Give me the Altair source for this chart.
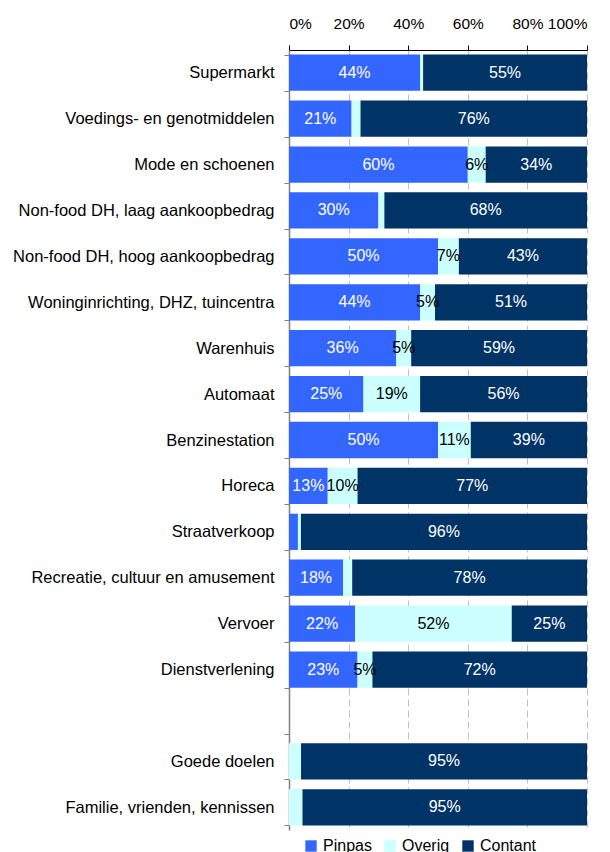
import altair as alt
import pandas as pd

categories = [
    "Supermarkt", "Voedings- en genotmiddelen", "Mode en schoenen",
    "Non-food DH, laag aankoopbedrag", "Non-food DH, hoog aankoopbedrag",
    "Woninginrichting, DHZ, tuincentra", "Warenhuis", "Automaat",
    "Benzinestation", "Horeca", "Straatverkoop",
    "Recreatie, cultuur en amusement", "Vervoer", "Dienstverlening",
    " ", "Goede doelen", "Familie, vrienden, kennissen",
]
pinpas = [44, 21, 60, 30, 50, 44, 36, 25, 50, 13, 3, 18, 22, 23, None, 0, 0]
overig = [1, 3, 6, 2, 7, 5, 5, 19, 11, 10, 1, 3, 52, 5, None, 4, 4.5]
contant = [55, 76, 34, 68, 43, 51, 59, 56, 39, 77, 96, 78, 25, 72, None, 95, 95]
methods = ["Pinpas", "Overig", "Contant"]
colors = ["#3366FF", "#CCFFFF", "#003366"]

rows = []
for i, c in enumerate(categories):
    for j, (m, vals) in enumerate(zip(methods, [pinpas, overig, contant])):
        v = vals[i]
        if v is None:
            continue
        rows.append({"cat": c, "method": m, "order": j, "value": v})
df = pd.DataFrame(rows)

FONT = "Liberation Sans"

base = alt.Chart(df)

y_enc = alt.Y(
    "cat:N",
    sort=categories,
    scale=alt.Scale(domain=categories, paddingInner=0.21, paddingOuter=0.1),
    title=None,
    axis=alt.Axis(
        tickBand="extent",
        labelFont=FONT, labelFontSize=16.5, labelColor="#000000",
        labelPadding=10, tickSize=5, tickColor="#808080",
        domainColor="#808080", domainWidth=1.5, labelLimit=400,
        grid=False,
    ),
)

bars = base.mark_bar().encode(
    x=alt.X(
        "value:Q", stack="normalize", title=None,
        scale=alt.Scale(domain=[0, 1], nice=False),
        axis=alt.Axis(
            orient="top", format=".0%", values=[0, 0.2, 0.4, 0.6, 0.8, 1.0],
            labelFont=FONT, labelFontSize=15.5, labelColor="#000000",
            tickSize=5, tickColor="#000000", domainColor="#000000",
            labelPadding=14,
            grid=True, gridColor="#c0c0c0", gridDash=[7, 4],
        ),
    ),
    y=y_enc,
    color=alt.Color(
        "method:N",
        scale=alt.Scale(domain=methods, range=colors),
        legend=alt.Legend(
            title=None, orient="none", direction="horizontal",
            legendX=14, legendY=788,
            symbolType="square", symbolSize=130, symbolStrokeWidth=0,
            labelFont=FONT, labelFontSize=16, labelColor="#000000",
            columnPadding=10, labelOffset=4,
        ),
    ),
    order=alt.Order("order:Q"),
)

labels = base.transform_joinaggregate(
    total="sum(value)", groupby=["cat"]
).transform_window(
    cum="sum(value)", groupby=["cat"], sort=[alt.SortField("order")]
).transform_calculate(
    mid="(datum.cum - datum.value / 2) / datum.total",
    txt="format(datum.value, 'd') + '%'",
    tcol="datum.method == 'Overig' ? 'black' : 'white'",
).transform_filter(
    "datum.value >= 5"
).mark_text(font=FONT, fontSize=16).encode(
    x=alt.X("mid:Q", scale=alt.Scale(domain=[0, 1], nice=False)),
    y=alt.Y("cat:N", sort=categories, scale=alt.Scale(domain=categories)),
    text="txt:N",
    color=alt.Color("tcol:N", scale=None),
)

chart = alt.layer(bars, labels).resolve_scale(color="independent").properties(
    width=298, height=780,
    padding={"left": 4, "top": 8, "right": 5, "bottom": 5},
).configure_view(stroke=None)

chart.save("out.html", embed_options={"renderer": "svg", "actions": False})
